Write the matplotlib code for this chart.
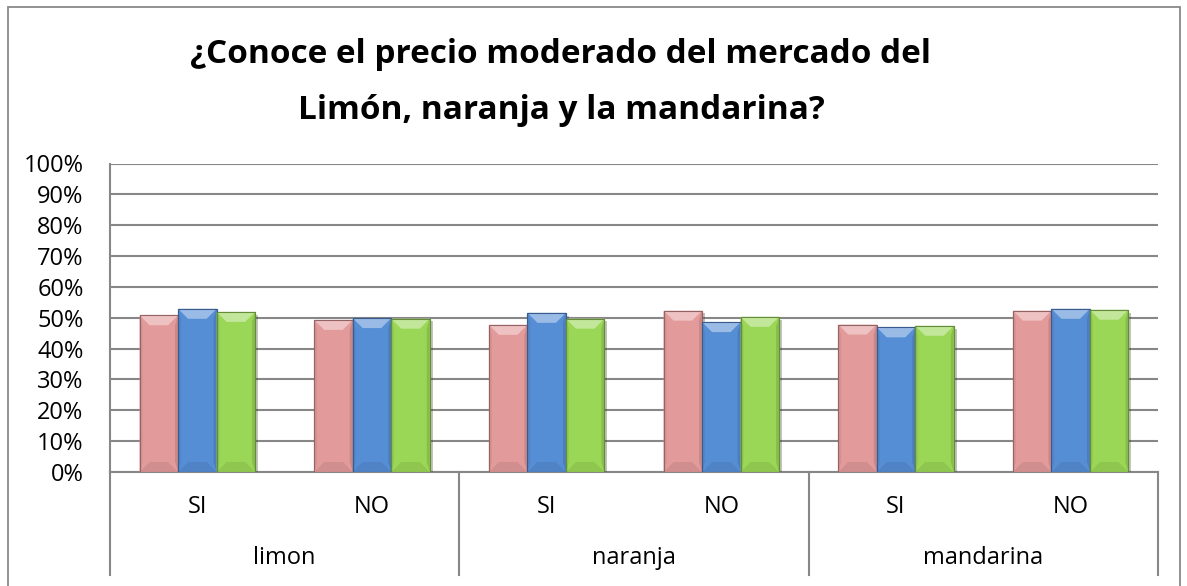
import matplotlib
matplotlib.use("Agg")
import matplotlib.pyplot as plt
import matplotlib.patheffects as pe
from matplotlib.patches import Rectangle, Polygon
from matplotlib.colors import to_rgb
import numpy as np

# data
groups = ["limon", "naranja", "mandarina"]
answers = ["SI", "NO", "SI", "NO", "SI", "NO"]
serie_1 = [0.508, 0.493, 0.477, 0.523, 0.478, 0.523]
serie_2 = [0.529, 0.499, 0.516, 0.486, 0.469, 0.529]
serie_3 = [0.519, 0.497, 0.497, 0.503, 0.474, 0.526]
ytick_vals = np.arange(0, 1.01, 0.1)
ytick_labels = ["%d%%" % round(v * 100) for v in ytick_vals]

colors = ["#E39A9A", "#568ED6", "#9BD756"]
font = "Open Sans"
plt.rcParams["font.family"] = [font, "DejaVu Sans"]


def mix(c, other, t):
    c = np.array(to_rgb(c))
    o = np.array(to_rgb(other))
    return tuple(c * (1 - t) + o * t)


W, H, DPI = 1187, 586, 100
fig = plt.figure(figsize=(W / DPI, H / DPI), dpi=DPI)
ax = fig.add_axes([110 / W, 114 / H, 1048 / W, 308.5 / H])

x = np.arange(len(answers))
bw = 0.2204
series = [serie_1, serie_2, serie_3]

ax.set_xlim(-0.5, len(answers) - 0.5)
ax.set_ylim(0, 1)
ax.set_yticks(ytick_vals)
ax.set_yticklabels(ytick_labels)
ax.tick_params(axis="y", length=0, pad=19, labelsize=17)
ax.set_xticks([])
ax.grid(axis="y", color="#878787", linewidth=1.5, zorder=0)
ax.set_axisbelow(True)
for s in ["top", "right"]:
    ax.spines[s].set_visible(False)
for s in ["left", "bottom"]:
    ax.spines[s].set_color("#878787")
    ax.spines[s].set_linewidth(1.5)

# pixel -> data scale for the bevel
sx = (len(answers)) / 1048.0
sy = 1.0 / 308.5
bx, by = 10 * sx, 10 * sy

for i, (vals, col) in enumerate(zip(series, colors)):
    bars = ax.bar(x + (i - 1) * bw, vals, width=bw, color=col,
                  edgecolor=mix(col, "black", 0.35), linewidth=0.8, zorder=3)
    for b in bars:
        b.set_path_effects([pe.SimplePatchShadow(offset=(2, -2), alpha=0.3),
                            pe.Normal()])
        x0, h, w = b.get_x(), b.get_height(), b.get_width()
        x1 = x0 + w
        top = Polygon([(x0, h), (x1, h), (x1 - bx, h - by), (x0 + bx, h - by)],
                      closed=True, facecolor=mix(col, "white", 0.4),
                      edgecolor="none", zorder=4)
        bot = Polygon([(x0, 0), (x1, 0), (x1 - bx, by), (x0 + bx, by)],
                      closed=True, facecolor=mix(col, "black", 0.08),
                      edgecolor="none", zorder=4)
        left = Polygon([(x0, 0), (x0 + bx * 0.3, by), (x0 + bx * 0.3, h - by), (x0, h)],
                       closed=True, facecolor=mix(col, "black", 0.06),
                       edgecolor="none", zorder=4)
        right = Polygon([(x1, 0), (x1 - bx * 0.3, by), (x1 - bx * 0.3, h - by), (x1, h)],
                        closed=True, facecolor=mix(col, "black", 0.12),
                        edgecolor="none", zorder=4)
        for p in (top, bot, left, right):
            ax.add_patch(p)
        ax.add_patch(Rectangle((x0, 0), w, h, facecolor="none",
                               edgecolor=mix(col, "black", 0.35),
                               linewidth=0.8, zorder=5))

# two-level category axis
trans = ax.get_xaxis_transform()
for xi, lab in zip(x, answers):
    ax.text(xi, -0.1135, lab, transform=trans, ha="center", va="center",
            fontsize=17, color="black")
for gi, g in enumerate(groups):
    ax.text(2 * gi + 0.5, -0.279, g, transform=trans, ha="center", va="center",
            fontsize=17, color="black")
for sep in np.arange(-0.5, len(answers), 2):
    ax.plot([sep, sep], [0, -0.334], transform=trans, color="#878787",
            linewidth=1.5, clip_on=False, zorder=2)

# title
fig.text(561 / W, 1 - 63 / H, "¿Conoce el precio moderado del mercado del",
         ha="center", va="baseline", fontsize=24, fontweight="bold")
fig.text(561 / W, 1 - 119 / H, "Limón, naranja y la mandarina?",
         ha="center", va="baseline", fontsize=24, fontweight="bold")

# chart border
fig.patches.append(Rectangle((8 / W, -0.02), (1180 - 8) / W, 1 - 7 / H + 0.02,
                             transform=fig.transFigure, facecolor="none",
                             edgecolor="#898989", linewidth=1.3))

fig.savefig("out.png", dpi=DPI, facecolor="white")
